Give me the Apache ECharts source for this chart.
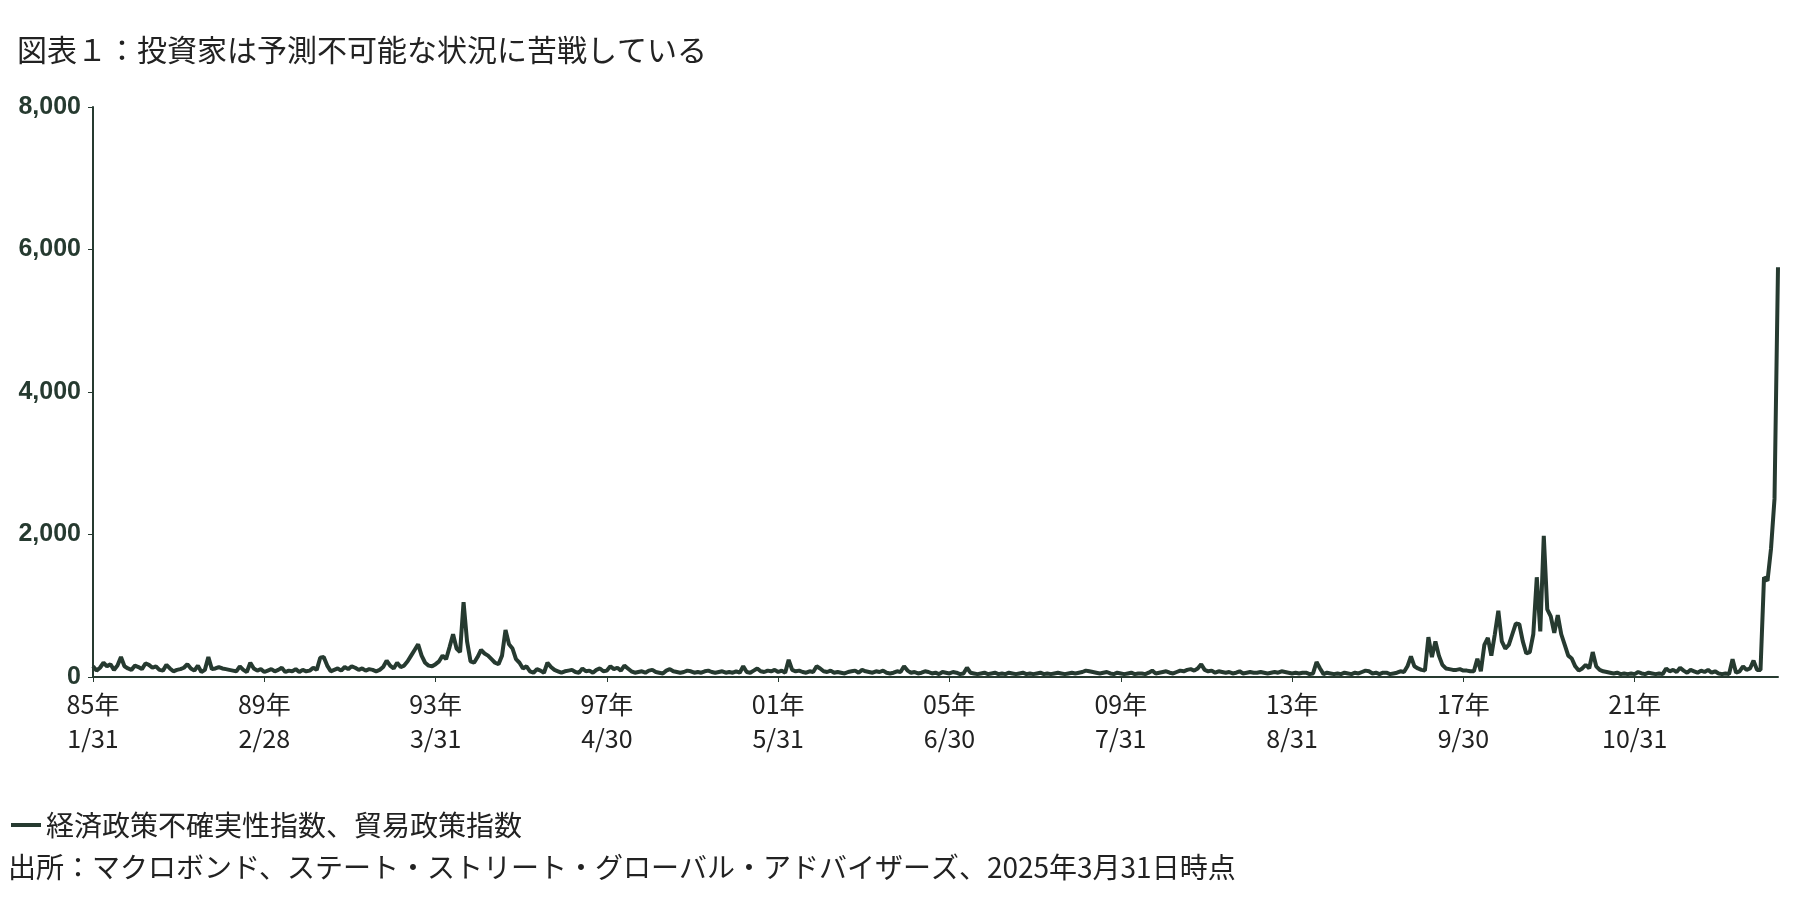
<!DOCTYPE html>
<html><head><meta charset="utf-8">
<script src="https://cdn.jsdelivr.net/npm/echarts@6/dist/echarts.min.js"></script>
<style>html,body{margin:0;padding:0;background:#fff}#c{width:1800px;height:900px}</style>
</head><body><div id="c"></div>
<script>
const years = [];
for (let y = 1985; y <= 2025; y++) years.push(y);
const v1985=[150,90,130,200,150,180,100,160,280,150,120,100];
const v1986=[160,140,110,190,170,130,150,100,90,170,120,80];
const v1987=[100,110,130,180,120,90,160,70,100,280,110,120];
const v1988=[140,120,110,100,90,80,150,100,70,200,120,90];
const v1989=[110,70,90,110,80,100,130,70,90,80,110,70];
const v1990=[100,80,90,130,100,270,280,160,80,100,120,90];
const v1991=[140,110,150,130,100,120,90,110,100,80,100,140];
const v1992=[230,160,120,200,140,160,220,300,380,460,300,200];
const v1993=[160,150,180,220,300,250,420,600,400,350,1050,500];
const v1994=[220,200,280,380,330,300,250,200,180,300,660,460];
const v1995=[400,250,200,120,150,80,60,110,90,60,200,140];
const v1996=[100,80,60,80,90,100,70,60,120,80,90,60];
const v1997=[100,120,80,90,150,110,130,90,160,120,80,60];
const v1998=[70,80,60,90,100,70,60,50,90,110,80,70];
const v1999=[60,70,90,80,60,70,60,80,90,70,60,70];
const v2000=[80,60,70,60,80,60,150,70,60,90,120,80];
const v2001=[70,90,80,100,70,90,60,240,100,80,90,70];
const v2002=[60,80,70,150,120,80,70,90,60,70,60,50];
const v2003=[70,80,90,60,100,80,70,60,80,70,90,60];
const v2004=[50,60,80,70,150,90,60,70,50,60,80,70];
const v2005=[50,60,40,70,60,50,70,60,40,50,130,60];
const v2006=[50,40,50,60,40,50,60,40,50,40,60,50];
const v2007=[40,50,60,40,50,40,50,60,40,50,40,50];
const v2008=[60,50,40,50,60,50,60,70,90,80,70,60];
const v2009=[50,60,70,50,40,60,50,40,50,60,40,50];
const v2010=[50,40,60,90,50,60,70,80,60,50,70,90];
const v2011=[80,100,110,90,120,180,100,80,90,60,80,70];
const v2012=[60,70,50,60,80,50,60,70,60,60,70,60];
const v2013=[50,60,70,60,80,70,60,50,60,50,60,60];
const v2014=[40,50,210,120,40,60,50,40,50,40,60,50];
const v2015=[40,60,50,70,90,80,50,60,40,60,60,40];
const v2016=[50,60,80,70,150,290,150,120,100,90,560,280];
const v2017=[500,300,170,120,110,100,100,110,90,90,80,80];
const v2018=[256,80,450,550,300,600,930,500,400,450,600,750];
const v2019=[740,500,330,350,600,1400,640,1980,950,850,620,870];
const v2020=[600,450,300,260,150,90,120,170,120,350,150,100];
const v2021=[80,70,60,50,60,40,50,40,50,40,70,50];
const v2022=[40,60,50,40,50,40,120,80,100,70,130,90];
const v2023=[60,100,80,60,90,70,100,60,80,50,40,50];
const v2024=[40,250,60,80,150,100,120,230,100,100,1400,1350];
const v2025=[1800,2500,5750];
const valuesByYear=[v1985,v1986,v1987,v1988,v1989,v1990,v1991,v1992,v1993,v1994,v1995,v1996,v1997,v1998,v1999,v2000,v2001,v2002,v2003,v2004,v2005,v2006,v2007,v2008,v2009,v2010,v2011,v2012,v2013,v2014,v2015,v2016,v2017,v2018,v2019,v2020,v2021,v2022,v2023,v2024,v2025];
const tickLabels={"1985-1":"85年\n1/31","1989-2":"89年\n2/28","1993-3":"93年\n3/31","1997-4":"97年\n4/30","2001-5":"01年\n5/31","2005-6":"05年\n6/30","2009-7":"09年\n7/31","2013-8":"13年\n8/31","2017-9":"17年\n9/30","2021-10":"21年\n10/31"};
const categories=[], values=[];
valuesByYear.forEach((arr,i)=>arr.forEach((v,m)=>{categories.push(years[i]+"-"+(m+1));values.push(v);}));
const C='#263a30';
const chart=echarts.init(document.getElementById('c'));
chart.setOption({
  animation:false,
  title:{text:'図表１：投資家は予測不可能な状況に苦戦している',left:12,top:30,textStyle:{fontFamily:'Noto Sans CJK JP',fontWeight:'normal',fontSize:30,color:'#222'}},
  legend:{left:6,top:806,itemWidth:30,itemHeight:4,icon:'rect',textStyle:{fontFamily:'Noto Sans CJK JP',fontSize:28,color:'#222'},data:['経済政策不確実性指数、貿易政策指数']},
  graphic:[{type:'text',left:8,top:853,style:{text:'出所：マクロボンド、ステート・ストリート・グローバル・アドバイザーズ、2025年3月31日時点',font:'28px "Noto Sans CJK JP"',fill:'#222'}}],
  grid:{left:93,right:22,top:107,bottom:223},
  xAxis:{type:'category',data:categories,boundaryGap:false,
    axisLine:{lineStyle:{color:C,width:2}},
    axisTick:{show:true,interval:(i,v)=>v in tickLabels,length:5,lineStyle:{color:C}},
    axisLabel:{interval:(i,v)=>v in tickLabels,formatter:v=>tickLabels[v]||'',fontFamily:'Noto Sans CJK JP',fontSize:25,color:'#222',lineHeight:34,margin:10},
    splitLine:{show:false}},
  yAxis:{type:'value',min:0,max:8000,interval:2000,
    axisLine:{show:true,lineStyle:{color:C,width:2}},
    axisTick:{show:true,length:5,lineStyle:{color:C}},
    axisLabel:{fontFamily:'Liberation Sans',fontWeight:'bold',fontSize:25,color:C,margin:12,formatter:v=>v.toLocaleString('en-US')},
    splitLine:{show:false}},
  series:[{name:'経済政策不確実性指数、貿易政策指数',type:'line',data:values,showSymbol:false,lineStyle:{color:C,width:4},itemStyle:{color:C}}]
});
</script></body></html>
